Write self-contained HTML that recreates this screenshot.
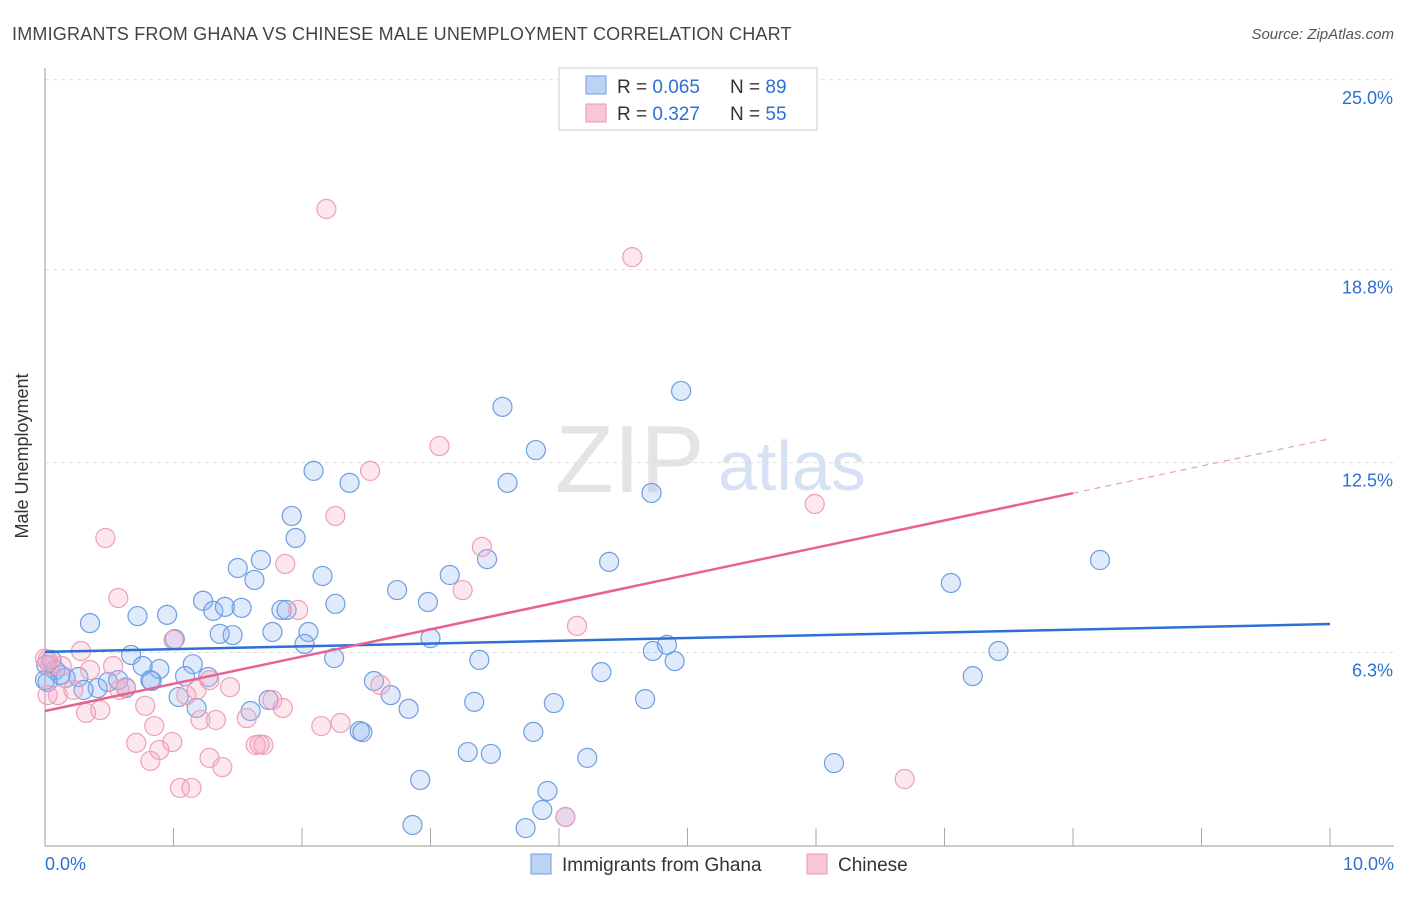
<!DOCTYPE html>
<html><head><meta charset="utf-8"><style>
body{margin:0;background:#fff;font-family:"Liberation Sans",sans-serif}
svg text{font-family:"Liberation Sans",sans-serif}
</style></head><body>
<svg width="1406" height="892" xmlns="http://www.w3.org/2000/svg">
<text x="12" y="40" font-size="18" fill="#444" letter-spacing="0.2">IMMIGRANTS FROM GHANA VS CHINESE MALE UNEMPLOYMENT CORRELATION CHART</text>
<text x="1394" y="39" font-size="15" fill="#555" text-anchor="end" font-style="italic">Source: ZipAtlas.com</text>
<text x="555" y="492" font-size="96" fill="#e4e4e4" font-family="Liberation Serif">ZIP</text>
<text x="718" y="490" font-size="70" fill="#d6e2f3">atlas</text>
<g id="grid"></g>
<line x1="45" y1="68" x2="45" y2="846" stroke="#999"/>
<line x1="45" y1="846" x2="1394" y2="846" stroke="#999"/>
<text x="28" y="456" font-size="18" fill="#333" text-anchor="middle" transform="rotate(-90 28 456)">Male Unemployment</text>
<g id="marks"></g>
<g id="trends"></g>
<rect x="559" y="68" width="258" height="62" fill="#fff" stroke="#ccc"/>
<rect x="586" y="76" width="20" height="18" fill="#bcd3f5" stroke="#6f9ce0"/>
<rect x="586" y="104" width="20" height="18" fill="#f8c6d5" stroke="#ea9ab3"/>
<text x="617" y="93" font-size="19" fill="#333">R = <tspan fill="#2e6fd6">0.065</tspan></text>
<text x="730" y="93" font-size="19" fill="#333">N = <tspan fill="#2e6fd6">89</tspan></text>
<text x="617" y="120" font-size="19" fill="#333">R = <tspan fill="#2e6fd6"> 0.327</tspan></text>
<text x="730" y="120" font-size="19" fill="#333">N = <tspan fill="#2e6fd6">55</tspan></text>
<text x="45" y="870" font-size="18" fill="#2e6fd6">0.0%</text>
<text x="1394" y="870" font-size="18" fill="#2e6fd6" text-anchor="end">10.0%</text>
<rect x="531" y="854" width="20" height="20" fill="#bcd3f5" stroke="#6f9ce0"/>
<text x="562" y="871" font-size="19" fill="#333">Immigrants from Ghana</text>
<rect x="807" y="854" width="20" height="20" fill="#f8c6d5" stroke="#ea9ab3"/>
<text x="838" y="871" font-size="19" fill="#333">Chinese</text>
</svg>
<script>
const yTicks=[25,18.8,12.5,6.3];
const yTickLabels=["25.0%","18.8%","12.5%","6.3%"];
const xTickValues=[0,1,2,3,4,5,6,7,8,9,10];
const ghanaX=[0.35,0.72,0.95,1.23,1.31,1.40,1.53,1.50,1.63,1.68,1.92,1.95,2.09,2.37,2.16,2.26,1.84,1.88,2.05,1.77,1.36,1.46,2.02,2.25,1.01,0.67,0.76,0.89,1.15,0.05,0.08,0.16,0.26,0.41,0.49,0.57,0.63,0.83,0.30,0.82,1.04,1.09,1.27,1.18,1.60,1.74,2.56,2.69,2.83,2.45,2.74,2.98,3.00,3.15,3.44,3.38,3.34,3.29,3.47,3.80,3.96,4.22,4.33,3.56,3.60,3.82,4.39,4.72,4.95,4.67,4.73,4.84,4.90,2.92,2.86,3.91,3.87,3.74,4.05,6.14,7.05,7.22,7.42,8.21,0.01,0.02,0.12,2.47,0.00];
const ghanaY=[7.26,7.49,7.53,7.99,7.66,7.79,7.76,9.06,8.67,9.32,10.76,10.04,12.23,11.84,8.80,7.89,7.69,7.69,6.97,6.97,6.91,6.87,6.58,6.12,6.74,6.22,5.86,5.76,5.92,6.06,5.73,5.47,5.50,5.14,5.34,5.40,5.14,5.37,5.08,5.40,4.85,5.53,5.50,4.49,4.39,4.75,5.37,4.91,4.46,3.74,8.34,7.95,6.77,8.83,9.35,6.06,4.69,3.05,2.99,3.71,4.65,2.86,5.66,14.32,11.84,12.91,9.26,11.51,14.84,4.78,6.35,6.55,6.02,2.14,0.67,1.78,1.16,0.57,0.93,2.69,8.57,5.53,6.35,9.32,5.89,5.34,5.57,3.70,5.40];
const chineseX=[2.19,4.57,3.07,2.53,2.26,3.40,3.25,0.47,0.57,1.00,0.28,0.35,0.53,0.13,0.02,0.22,0.10,0.32,0.43,0.63,0.78,0.85,0.71,0.89,0.82,0.99,1.10,1.18,1.21,1.33,1.28,1.38,1.44,1.05,1.14,1.57,1.64,1.70,1.77,1.85,1.97,1.87,2.15,2.30,2.61,4.14,5.99,6.69,4.05,0.02,0.58,1.28,0.04,1.67,0.00];
const chineseY=[20.78,19.21,13.04,12.23,10.76,9.75,8.34,10.04,8.08,6.71,6.35,5.73,5.86,5.86,6.06,5.08,4.91,4.33,4.42,5.17,4.56,3.90,3.35,3.12,2.76,3.38,4.91,5.08,4.10,4.10,2.86,2.56,5.17,1.88,1.88,4.16,3.28,3.28,4.75,4.49,7.69,9.19,3.90,4.00,5.24,7.17,11.15,2.17,0.93,4.91,5.08,5.40,5.89,3.30,6.10];
const ghanaTrend=[6.32,7.23];
const chineseTrend=[4.39,13.28];
const chineseSolidEnd=8.0;
const NS="http://www.w3.org/2000/svg";
const X=v=>45+v*128.5, Y=v=>845.5-v*30.63;
function mk(t,a,p){const e=document.createElementNS(NS,t);for(const k in a)e.setAttribute(k,a[k]);p.appendChild(e);return e;}
const grid=document.getElementById('grid');
yTicks.forEach((t,i)=>{
 const l=mk('line',{x1:45,x2:1394,y1:Y(t),y2:Y(t),stroke:'#ddd','stroke-dasharray':'4 4'},grid);
 
 
 const tx=mk('text',{x:1393,y:Y(t)+24,'font-size':18,fill:'#2e6fd6','text-anchor':'end'},grid);
 tx.textContent=yTickLabels[i];
 
 
});
xTickValues.forEach(v=>{
 const l=mk('line',{x1:X(v),x2:X(v),y1:828,y2:846,stroke:'#aaa'},grid);
 
 
});
const marks=document.getElementById('marks');
ghanaX.forEach((x,i)=>{
 const c=mk('circle',{cx:X(x),cy:Y(ghanaY[i]),r:9.5,fill:'rgba(140,180,240,0.28)',stroke:'#6f9de2','stroke-width':1.2},marks);
 
 
});
chineseX.forEach((x,i)=>{
 const c=mk('circle',{cx:X(x),cy:Y(chineseY[i]),r:9.5,fill:'rgba(245,170,198,0.28)',stroke:'#ee9fb8','stroke-width':1.2},marks);
 
 
});
const tr=document.getElementById('trends');
const b=mk('line',{x1:X(0),y1:Y(ghanaTrend[0]),x2:X(10),y2:Y(ghanaTrend[1]),stroke:'#2e6fd6','stroke-width':2.5},tr);


const pm=(chineseTrend[1]-chineseTrend[0])/10;
const p=mk('line',{x1:X(0),y1:Y(chineseTrend[0]),x2:X(chineseSolidEnd),y2:Y(chineseTrend[0]+pm*chineseSolidEnd),stroke:'#e8628f','stroke-width':2.5},tr);


const pd=mk('line',{x1:X(chineseSolidEnd),y1:Y(chineseTrend[0]+pm*chineseSolidEnd),x2:X(10),y2:Y(chineseTrend[1]),stroke:'#e8a0b8','stroke-width':1.2,'stroke-dasharray':'6 5'},tr);


</script>
</body></html>
